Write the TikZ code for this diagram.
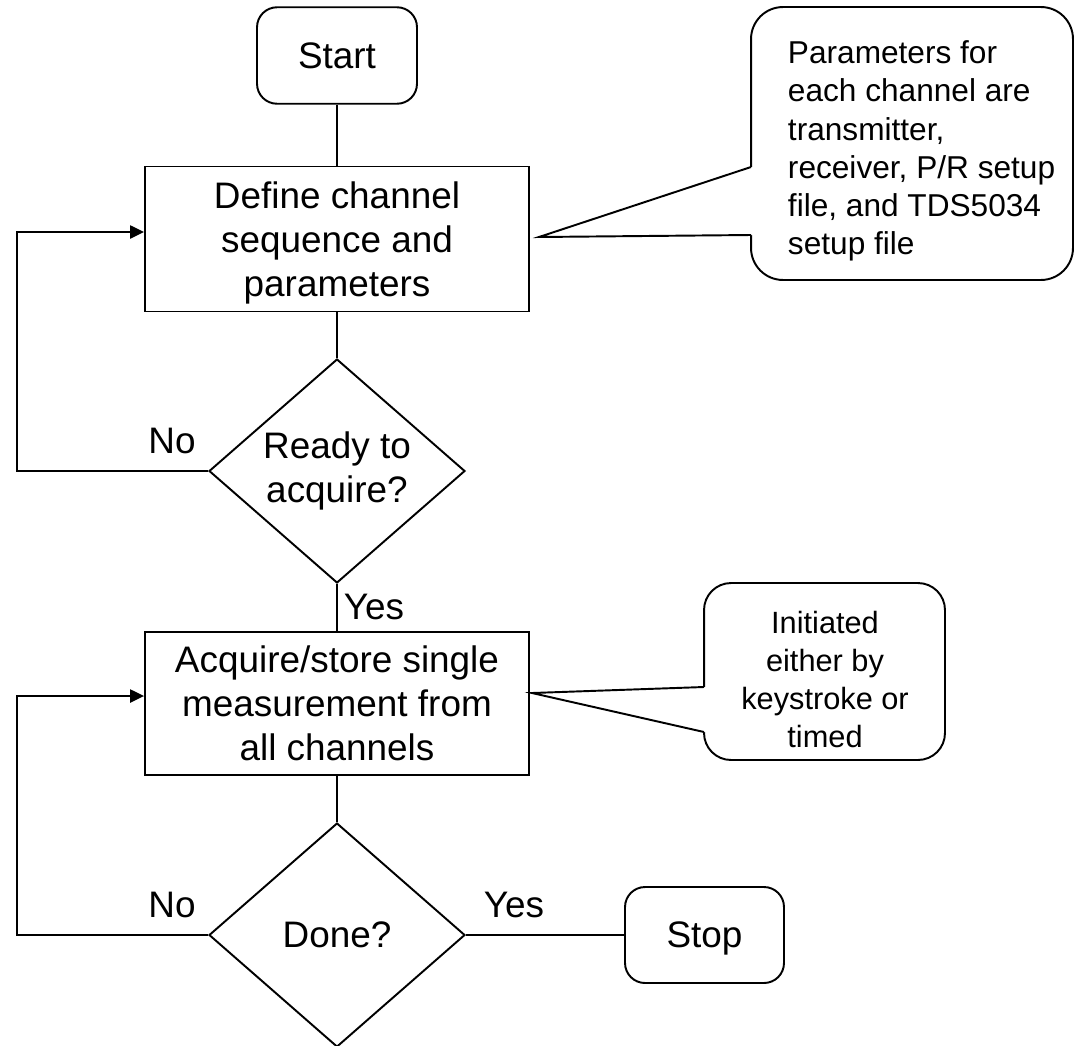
\documentclass[tikz,border=0pt]{standalone}
\usepackage{fontspec}
\setmainfont{Liberation Sans}
\usetikzlibrary{shapes.geometric,arrows.meta}

\begin{document}
\begin{tikzpicture}[x=0.02cm,y=-0.02cm,line width=1.1pt,
        every node/.style={font=\fontsize{21}{25}\selectfont},
        term/.style={draw,rounded corners=0.4cm,text depth=0pt,minimum width=3.2cm,minimum height=1.93cm},
        proc/.style={draw,align=center,text depth=0pt,minimum width=7.68cm,minimum height=2.9cm},
        decision/.style={draw,diamond,aspect=1.14,inner sep=0pt,align=center,minimum width=5.12cm,minimum height=4.48cm},
        callout/.style={draw,fill=white},
        notetext/.style={font=\fontsize{17.5}{21.8}\selectfont,inner sep=0pt}]
        \useasboundingbox (0,0) rectangle (1074,1045);
        \node[term] (start) at (337,55.5) {Start};
        \node[proc] (define) at (337,239) {Define channel\\sequence and\\parameters};
        \node[decision] (ready) at (337,471) {Ready to\\acquire?};
        \node[proc,minimum height=2.86cm] (acquire) at (337,703.5) {Acquire/store single\\measurement from\\all channels};
        \node[decision] (done) at (337,935) {Done?};
        \node[term,minimum width=3.18cm,minimum height=1.92cm] (stop) at (704.5,935) {Stop};
        \draw (start) -- (define);
        \draw (define) -- (ready);
        \draw (ready) -- (acquire);
        \draw (acquire) -- (done);
        \draw (done) -- (stop);
        \coordinate (loop1) at (17,232);
        \coordinate (loop2) at (17,696);
        \draw[-{Triangle[length=8pt,width=7.5pt]}] (ready.west) -| (loop1) -- (loop1 -| define.west);
        \draw[-{Triangle[length=8pt,width=7.5pt]}] (done.west) -| (loop2) -- (loop2 -| acquire.west);
        \node (no1) at (172,441) {No};
        \node (yes1) at (374,607) {Yes};
        \node (no2) at (172,905) {No};
        \node (yes2) at (514,905) {Yes};
        \node[callout,rounded corners=0.64cm,minimum width=6.44cm,minimum height=5.46cm] (note1) at (912,143.5) {};
        \node[notetext,font=\fontsize{18}{21.8}\selectfont,align=left,anchor=west] (text1) at (787,151) {Parameters for\\each channel are\\transmitter,\\receiver, P/R setup\\file, and TDS5034\\setup file};
        \coordinate (tip1) at (539,237);
        \coordinate (n1a) at (751,167);
        \coordinate (n1b) at (751,235);
        \fill[white] (n1a) -- (tip1) -- (n1b) -- ([xshift=2pt]n1b) -- ([xshift=2pt]n1a) -- cycle;
        \draw (n1a) -- (tip1) -- (n1b);
        \node[callout,rounded corners=0.54cm,minimum width=4.82cm,minimum height=3.54cm] (note2) at (824.5,671.5) {};
        \node[notetext,align=center] (text2) at (825,679.5) {Initiated\\either by\\keystroke or\\timed};
        \coordinate (tip2) at (532,693);
        \coordinate (n2a) at (704,687);
        \coordinate (n2b) at (704,732);
        \fill[white] (n2a) -- (tip2) -- (n2b) -- ([xshift=2pt]n2b) -- ([xshift=2pt]n2a) -- cycle;
        \draw (n2a) -- (tip2) -- (n2b);
    \end{tikzpicture}
\end{document}
